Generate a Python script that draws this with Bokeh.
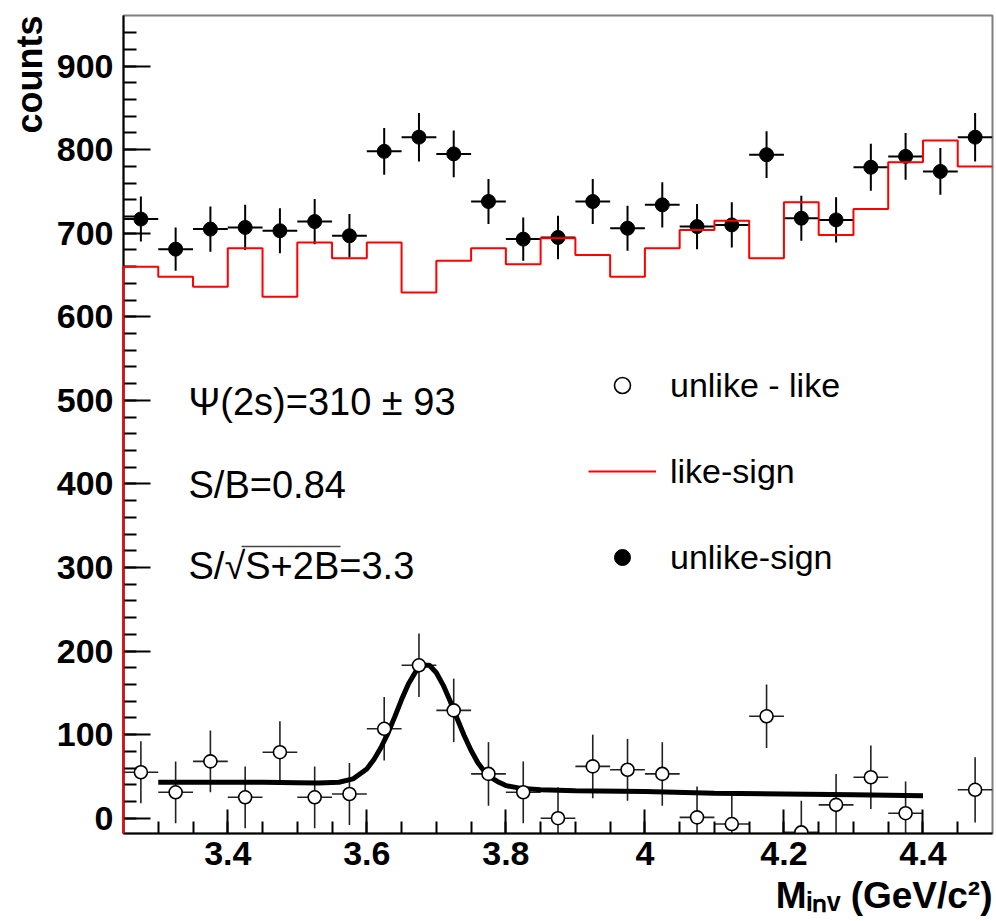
import numpy as np
from bokeh.plotting import figure
from bokeh.models import Range1d, FixedTicker, Label, Legend, LegendItem, Title
from bokeh.embed import file_html
from bokeh.resources import INLINE

# ---------------- data ----------------
bin_width = 0.05
bin_centers = [3.275, 3.325, 3.375, 3.425, 3.475, 3.525, 3.575, 3.625, 3.675, 3.725,
               3.775, 3.825, 3.875, 3.925, 3.975, 4.025, 4.075, 4.125, 4.175, 4.225,
               4.275, 4.325, 4.375, 4.425, 4.475]
unlike_sign = [717, 681, 705, 707, 703, 714, 697, 798, 815, 795,
               738, 693, 695, 738, 706, 734, 708, 710, 794, 718,
               716, 779, 792, 774, 815]
unlike_err = [27, 26, 27, 27, 27, 27, 26, 28, 29, 28,
              27, 26, 26, 27, 27, 27, 27, 27, 28, 27,
              27, 28, 28, 28, 29]
like_sign = [660, 648, 636, 682, 624, 689, 670, 689, 629, 667,
             682, 663, 694, 674, 648, 682, 704, 715, 670, 737,
             698, 729, 785, 811, 780]
diff = [55, 31, 68, 25, 79, 25, 29, 107, 183, 129,
        53, 31, 0, 62, 58, 53, 1, -7, 122, -17,
        16, 49, 6, -37, 34]
diff_err = [37, 37, 37, 37, 37, 37, 37, 38, 38, 38,
            38, 37, 37, 38, 37, 38, 37, 37, 38, 38,
            37, 38, 38, 38, 39]
fit_x = [3.30, 3.35, 3.40, 3.45, 3.50, 3.53, 3.56, 3.58, 3.60, 3.61, 3.62, 3.63,
         3.64, 3.65, 3.66, 3.67, 3.68, 3.69, 3.70, 3.71, 3.72, 3.73, 3.74, 3.75,
         3.76, 3.77, 3.78, 3.79, 3.80, 3.82, 3.85, 3.90, 4.00, 4.10, 4.20, 4.30, 4.40]
fit_y = [43, 43, 43, 43, 42.5, 42, 43, 47, 59, 70, 84, 101,
         121, 142, 161, 175, 183, 183, 174, 159, 140, 119, 99, 81,
         66, 55, 48, 43, 39, 36, 34, 33, 32, 30, 29, 28, 27]
x_major_ticks = [3.4, 3.6, 3.8, 4.0, 4.2, 4.4]
x_tick_labels = ["3.4", "3.6", "3.8", "4", "4.2", "4.4"]
y_major_ticks = [0, 100, 200, 300, 400, 500, 600, 700, 800, 900]

X0, X1 = 3.25, 4.5
Y0, Y1 = -18.3, 960.6

# ---------------- layout helpers ----------------
W, H = 996, 921
FL, FR, FT, FB = 123, 992, 15, 833


def px2x(px):
    return X0 + (px - FL) * (X1 - X0) / (FR - FL)


def py2y(py):
    return Y0 + (FB - py) * (Y1 - Y0) / (FB - FT)


p = figure(width=W, height=H, x_range=Range1d(X0, X1), y_range=Range1d(Y0, Y1),
           output_backend="svg", toolbar_location=None,
           min_border_left=FL, min_border_right=W - FR, min_border_top=FT,
           min_border_bottom=H - FB)
p.background_fill_color = "white"
p.border_fill_color = "white"
p.outline_line_color = "#808080"
p.outline_line_width = 2
p.xgrid.visible = False
p.ygrid.visible = False

FONT = "Liberation Sans"

xa = p.xaxis[0]
xa.ticker = FixedTicker(ticks=x_major_ticks,
                        minor_ticks=list(np.round(np.arange(3.30, 4.46, 0.05), 2)))
xa.major_label_overrides = {t: l for t, l in zip(x_major_ticks, x_tick_labels)}
ya = p.yaxis[0]
ya.ticker = FixedTicker(ticks=y_major_ticks, minor_ticks=list(range(0, 941, 20)))
for ax, big, small in ((xa, 24, 12), (ya, 27, 13)):
    ax.major_tick_in = big
    ax.major_tick_out = 0
    ax.minor_tick_in = small
    ax.minor_tick_out = 0
    ax.axis_line_width = 2
    ax.major_tick_line_width = 2
    ax.minor_tick_line_width = 2
    ax.major_label_text_font = FONT
    ax.major_label_text_font_style = "bold"
    ax.major_label_text_font_size = "34px"
    ax.major_label_text_color = "black"
xa.major_label_standoff = 8
ya.major_label_standoff = 10

# axis titles (as side-panel titles so that they sit at the ends of the axes)
p.add_layout(Title(text="counts", align="right", text_font=FONT, text_font_size="36px",
                   text_font_style="bold", standoff=8, text_color="black"), "left")
p.add_layout(Title(text="M\u1d62\u2099\u1d65 (GeV/c\u00b2)", align="right", text_font=FONT,
                   text_font_size="37px", text_font_style="bold", standoff=10,
                   text_color="black"), "below")

# ---------------- like-sign histogram (red step) ----------------
hx = [X0]
hy = [Y0]
for c, v in zip(bin_centers, like_sign):
    hx += [c - bin_width / 2, c + bin_width / 2]
    hy += [v, v]
r_like = p.line(hx, hy, line_color="#ff0000", line_width=2, level="overlay")

# ---------------- unlike-sign points ----------------
uc = np.array(bin_centers)
uv = np.array(unlike_sign, dtype=float)
ue = np.array(unlike_err, dtype=float)
p.segment(uc, uv - ue, uc, uv + ue, line_color="black", line_width=2)
p.segment(uc - bin_width / 2, uv, uc + bin_width / 2, uv, line_color="black", line_width=2)
r_unlike = p.scatter(uc, uv, size=14, marker="circle", fill_color="black", line_color="black")

# ---------------- unlike - like points and fit ----------------
dv = np.array(diff, dtype=float)
de = np.array(diff_err, dtype=float)
m = dv >= Y0
p.segment(uc[m], (dv - de)[m], uc[m], (dv + de)[m], line_color="#222222", line_width=1.6)
p.segment(uc[m] - bin_width / 2, dv[m], uc[m] + bin_width / 2, dv[m],
          line_color="#222222", line_width=1.6)
p.line(fit_x, fit_y, line_color="black", line_width=5)
r_diff = p.scatter(uc[m], dv[m], size=13, marker="circle", fill_color="white",
                   line_color="black", line_width=1.6)

# ---------------- legend ----------------
legend = Legend(items=[LegendItem(label="unlike - like", renderers=[r_diff]),
                       LegendItem(label="like-sign", renderers=[r_like]),
                       LegendItem(label="unlike-sign", renderers=[r_unlike])],
                location=(465, 256), orientation="vertical",
                glyph_width=68, glyph_height=40, label_height=40, spacing=46,
                label_standoff=14, padding=0, margin=0,
                background_fill_alpha=0, border_line_alpha=0,
                label_text_font=FONT, label_text_font_size="34px",
                label_text_color="black")
p.add_layout(legend)

# ---------------- annotations ----------------
def lab(px, py, text, size, style="normal", align="left", baseline="middle", angle=0):
    p.add_layout(Label(x=px2x(px), y=py2y(py), text=text, text_font=FONT,
                       text_font_size=size, text_font_style=style, text_align=align,
                       text_baseline=baseline, angle=angle, text_color="black"))


lab(188, 401, "\u03a8(2s)=310 \u00b1 93", "38px")
lab(188, 484, "S/B=0.84", "38px")
lab(188, 565, "S/\u221aS+2B=3.3", "38px")
p.segment([px2x(241)], [py2y(546)], [px2x(340)], [py2y(546)], line_color="#444444",
          line_width=1.5)

open("out.html", "w").write(file_html(p, INLINE))
